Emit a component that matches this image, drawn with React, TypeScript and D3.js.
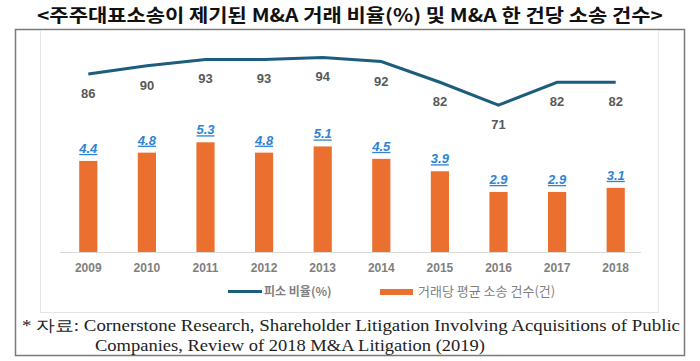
import React from 'react';
import * as d3 from 'd3';

const years = ['2009', '2010', '2011', '2012', '2013', '2014', '2015', '2016', '2017', '2018'];
const suitRate = [86, 90, 93, 93, 94, 92, 82, 71, 82, 82];
const suitsPerDeal = [4.4, 4.8, 5.3, 4.8, 5.1, 4.5, 3.9, 2.9, 2.9, 3.1];

const title = '<주주대표소송이 제기된 M&A 거래 비율(%) 및 M&A 한 건당 소송 건수>';
const legendLine = '피소 비율(%)';
const legendBar = '거래당 평균 소송 건수(건)';
const note1 = '* 자료: Cornerstone Research, Shareholder Litigation Involving Acquisitions of Public';
const note2 = 'Companies, Review of 2018 M&A Litigation (2019)';

const W = 700;
const H = 361;
const baseY = 252;

const App = () => {
  const x = d3.scaleBand().domain(years).range([59, 645]).paddingInner(0.69).paddingOuter(0.345);
  const yBar = d3.scaleLinear().domain([0, 10]).range([baseY, 45]);
  const yLine = d3.scaleLinear().domain([0, 100]).range([baseY, 45]);
  const cx = (d) => x(d) + x.bandwidth() / 2;

  const line = d3
    .line()
    .x((d, i) => cx(years[i]))
    .y((d) => yLine(d));

  const sans = '"Liberation Sans", Arial, sans-serif';
  const kr = '"Noto Sans CJK KR", "Noto Sans", sans-serif';
  const serif = '"Liberation Serif", "DejaVu Serif", serif';

  return (
    <div style={{ position: 'absolute', left: 0, top: 0 }}>
      <svg width={W} height={H} style={{ display: 'block', background: '#fff' }}>
        <text
          x={37}
          y={22}
          textLength={626}
          lengthAdjust="spacingAndGlyphs"
          fontFamily={kr}
          fontWeight="bold"
          fontSize={18}
          fill="#111"
        >
          {title}
        </text>

        <rect x={15.5} y={29.5} width={669} height={326} fill="#fff" stroke="#7a7a7a" strokeWidth={1.5} />
        <rect x={40.5} y={30.5} width={618} height={282} fill="#fff" stroke="#e4e4e4" strokeWidth={1} />

        {/* axis baseline */}
        <line x1={60} x2={641} y1={baseY + 0.5} y2={baseY + 0.5} stroke="#d9d9d9" strokeWidth={1} />

        {years.map((yr, i) => (
          <g key={yr}>
            <rect
              x={x(yr)}
              y={yBar(suitsPerDeal[i])}
              width={x.bandwidth()}
              height={baseY - yBar(suitsPerDeal[i])}
              fill="#eb7030"
            />
            <text
              x={cx(yr)}
              y={yBar(suitsPerDeal[i]) - 8}
              textAnchor="middle"
              fontFamily={sans}
              fontWeight="bold"
              fontStyle="italic"
              fontSize={13}
              textDecoration="underline"
              fill="#2f83d3"
            >
              {suitsPerDeal[i].toFixed(1)}
            </text>
            <text
              x={cx(yr)}
              y={yLine(suitRate[i]) + 24}
              textAnchor="middle"
              fontFamily={sans}
              fontWeight="bold"
              fontSize={13}
              fill="#595959"
            >
              {suitRate[i]}
            </text>
            <text
              x={cx(yr)}
              y={272}
              textAnchor="middle"
              fontFamily={sans}
              fontWeight="bold"
              fontSize={12}
              fill="#7f7f7f"
            >
              {yr}
            </text>
          </g>
        ))}

        <path d={line(suitRate)} fill="none" stroke="#1c5d7e" strokeWidth={3} />

        {/* legend */}
        <line x1={228} x2={262} y1={291.5} y2={291.5} stroke="#1c5d7e" strokeWidth={3} />
        <text x={264} y={296} fontFamily={kr} fontSize={12} fill="#7f7f7f" fontWeight="bold">
          {legendLine}
        </text>
        <rect x={380} y={289} width={33} height={6} fill="#eb7030" />
        <text x={418} y={296} fontFamily={kr} fontSize={13} fill="#7f7f7f">
          {legendBar}
        </text>

        {/* footnote */}
        <text
          x={22}
          y={331}
          textLength={658}
          lengthAdjust="spacingAndGlyphs"
          fontFamily={serif}
          fontSize={16}
          fill="#222"
        >
          {note1}
        </text>
        <text
          x={95}
          y={351}
          textLength={390}
          lengthAdjust="spacingAndGlyphs"
          fontFamily={serif}
          fontSize={16}
          fill="#222"
        >
          {note2}
        </text>
      </svg>
    </div>
  );
};

export default App;
